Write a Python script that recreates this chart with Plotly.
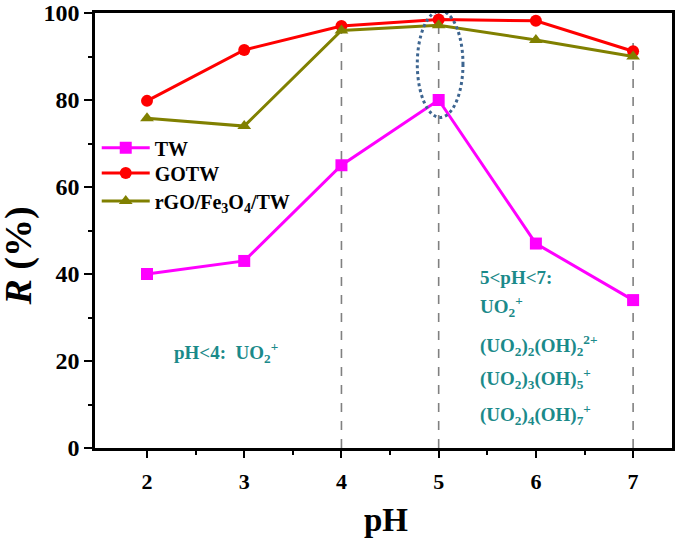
import plotly.graph_objects as go

ph = [2, 3, 4, 5, 6, 7]
tw = [40, 43, 65, 80, 47, 34]
gotw = [79.8, 91.5, 97, 98.5, 98.2, 91.2]
rgo = [75.8, 74, 96, 97.2, 93.8, 90]

y_ticks = [0, 20, 40, 60, 80, 100]

guide_x = [4, 5, 7]
guide_top = [96, 100, 95]

species_lines = [
    "5&lt;pH&lt;7:",
    "UO<sub>2</sub><sup>+</sup>",
    "(UO<sub>2</sub>)<sub>2</sub>(OH)<sub>2</sub><sup>2+</sup>",
    "(UO<sub>2</sub>)<sub>3</sub>(OH)<sub>5</sub><sup>+</sup>",
    "(UO<sub>2</sub>)<sub>4</sub>(OH)<sub>7</sub><sup>+</sup>",
]
species_y = [39.3, 32.6, 23.6, 16.0, 7.6]

FONT = "Liberation Serif"
TEAL = "#1b8a8a"

fig = go.Figure()

for gx, gt in zip(guide_x, guide_top):
    fig.add_trace(go.Scatter(
        x=[gx, gx], y=[0, gt], mode="lines",
        line={"color": "#808080", "width": 1.6, "dash": "dash"},
        hoverinfo="skip", showlegend=False,
    ))

# each series gets its own legend box so the rows can sit where the original has them
series = [
    ("TW", tw, "#ff00ff", "square", "legend", 0.690),
    ("GOTW", gotw, "#ff0000", "circle", "legend2", 0.632),
    ("rGO/Fe<sub>3</sub>O<sub>4</sub>/TW", rgo, "#808000", "triangle-up", "legend3", 0.568),
]
legend_layout = {}
for name, vals, color, sym, leg, ly in series:
    fig.add_trace(go.Scatter(
        x=ph, y=vals, mode="lines+markers", name=f"<b>{name}</b>", legend=leg,
        line={"color": color, "width": 3},
        marker={"color": color, "symbol": sym, "size": 12},
    ))
    legend_layout[leg] = {
        "x": 0.003, "y": ly, "xanchor": "left", "yanchor": "middle",
        "bgcolor": "rgba(0,0,0,0)", "borderwidth": 0, "itemwidth": 48,
        "font": {"family": FONT, "size": 20, "color": "black"},
    }

fig.add_shape(
    type="circle", xref="x", yref="y",
    x0=4.78, x1=5.25, y0=76, y1=100.5,
    line={"color": "#3d6590", "width": 3, "dash": "dot"},
)

fig.add_annotation(
    x=2.26, y=22, xanchor="left", yanchor="middle",
    text="<b>pH&lt;4:  UO<sub>2</sub><sup>+</sup></b>", showarrow=False,
    font={"family": FONT, "size": 19, "color": TEAL},
)
for txt, yy in zip(species_lines, species_y):
    fig.add_annotation(
        x=5.405, y=yy, xanchor="left", yanchor="middle",
        text=f"<b>{txt}</b>", showarrow=False,
        font={"family": FONT, "size": 19, "color": TEAL},
    )

# axis titles placed by hand
fig.add_annotation(
    x=0.504, y=-0.166, xref="paper", yref="paper", xanchor="center", yanchor="middle",
    text="<b>pH</b>", showarrow=False,
    font={"family": FONT, "size": 33, "color": "black"},
)
fig.add_annotation(
    x=-0.132, y=0.442, xref="paper", yref="paper", xanchor="center", yanchor="middle",
    text="<b><i>R</i> (%)</b>", showarrow=False, textangle=-90,
    font={"family": FONT, "size": 38, "color": "black"},
)

fig.update_xaxes(
    range=[1.465, 7.4], tickvals=ph, ticktext=[f"<b>{v}</b>" for v in ph],
    ticks="outside", ticklen=7, tickwidth=2, automargin=False, ticklabelstandoff=5,
    ticklabeloverflow="allow",
    tickcolor="black", showline=True, linecolor="black", linewidth=2.5, mirror=True,
    showgrid=False, zeroline=False,
    tickfont={"family": FONT, "size": 22, "color": "black"},
    minor={"tickvals": [2.5, 3.5, 4.5, 5.5, 6.5], "ticks": "outside", "ticklen": 4,
           "tickwidth": 2, "tickcolor": "black"},
)
fig.update_yaxes(
    range=[0, 100], tickvals=y_ticks, ticktext=[f"<b>{v}</b>" for v in y_ticks],
    ticks="outside", ticklen=8, automargin=False, ticklabeloverflow="allow",
    tickwidth=2, tickcolor="black", showline=True, linecolor="black", linewidth=2.5,
    mirror=True, showgrid=False, zeroline=False,
    tickfont={"family": FONT, "size": 24, "color": "black"},
    minor={"tickvals": [10, 30, 50, 70, 90], "ticks": "outside", "ticklen": 4,
           "tickwidth": 2, "tickcolor": "black"},
)
fig.update_layout(
    width=685, height=541,
    margin={"l": 95, "r": 13, "t": 13, "b": 93},
    paper_bgcolor="white", plot_bgcolor="white",
    **legend_layout,
)

# drop the page's default 8px body margin so the figure fills the window exactly
fig.write_html(
    "out.html",
    config={"displayModeBar": False},
    post_script="document.body.style.margin = '0';",
)
